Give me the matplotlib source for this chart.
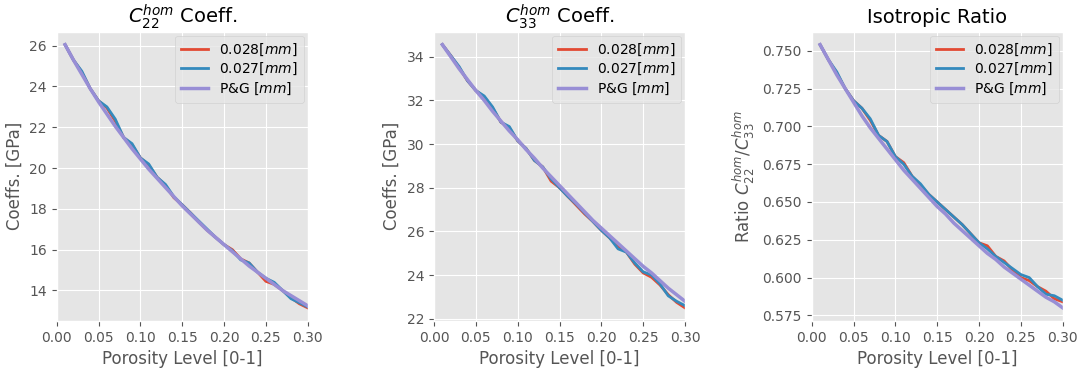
import matplotlib
matplotlib.use("Agg")
import matplotlib.pyplot as plt

plt.style.use("ggplot")

porosity = [0.01, 0.02, 0.03, 0.04, 0.05, 0.06, 0.07, 0.08, 0.09, 0.10,
            0.11, 0.12, 0.13, 0.14, 0.15, 0.16, 0.17, 0.18, 0.19, 0.20,
            0.21, 0.22, 0.23, 0.24, 0.25, 0.26, 0.27, 0.28, 0.29, 0.30]

# C22 coefficients [GPa]
c22_028 = [26.05, 25.3, 24.7, 23.9, 23.3, 22.95, 22.3, 21.5, 21.15, 20.5,
           20.15, 19.55, 19.15, 18.55, 18.2, 17.8, 17.35, 16.95, 16.6, 16.25,
           16.0, 15.55, 15.35, 14.9, 14.45, 14.3, 14.0, 13.65, 13.35, 13.15]
c22_027 = [26.05, 25.3, 24.75, 23.9, 23.3, 23.0, 22.4, 21.5, 21.2, 20.5,
           20.2, 19.55, 19.2, 18.6, 18.2, 17.8, 17.4, 17.0, 16.6, 16.25,
           15.95, 15.5, 15.35, 14.9, 14.6, 14.4, 14.0, 13.6, 13.4, 13.2]
c22_pg = [26.05, 25.3, 24.6, 23.9, 23.25, 22.65, 22.05, 21.5, 20.95, 20.45,
          19.95, 19.5, 19.05, 18.6, 18.15, 17.75, 17.35, 16.95, 16.6, 16.25,
          15.9, 15.55, 15.2, 14.9, 14.6, 14.3, 14.0, 13.75, 13.5, 13.25]

# C33 coefficients [GPa]
c33_028 = [34.55, 34.05, 33.5, 32.9, 32.45, 32.15, 31.65, 31.0, 30.75, 30.15,
           29.8, 29.25, 28.95, 28.3, 28.0, 27.6, 27.2, 26.8, 26.45, 26.05,
           25.7, 25.3, 25.05, 24.5, 24.1, 23.9, 23.55, 23.1, 22.75, 22.5]
c33_027 = [34.55, 34.05, 33.55, 32.9, 32.45, 32.2, 31.7, 31.0, 30.8, 30.15,
           29.8, 29.25, 28.95, 28.4, 28.0, 27.6, 27.25, 26.85, 26.45, 26.05,
           25.7, 25.2, 25.05, 24.55, 24.15, 24.0, 23.6, 23.05, 22.8, 22.6]
c33_pg = [34.55, 34.0, 33.45, 32.95, 32.45, 32.0, 31.5, 31.05, 30.6, 30.2,
          29.75, 29.35, 28.9, 28.5, 28.1, 27.7, 27.3, 26.9, 26.5, 26.15,
          25.8, 25.45, 25.1, 24.75, 24.4, 24.1, 23.75, 23.4, 23.1, 22.8]

# isotropic ratio C22/C33
ratio_028 = [0.754, 0.744, 0.735, 0.725, 0.717, 0.712, 0.704, 0.694, 0.690, 0.680,
             0.676, 0.667, 0.661, 0.655, 0.650, 0.645, 0.640, 0.635, 0.629, 0.623,
             0.621, 0.614, 0.611, 0.605, 0.600, 0.598, 0.594, 0.591, 0.586, 0.584]
ratio_027 = [0.754, 0.744, 0.736, 0.725, 0.717, 0.712, 0.705, 0.694, 0.690, 0.680,
             0.675, 0.667, 0.662, 0.655, 0.650, 0.645, 0.640, 0.635, 0.629, 0.623,
             0.619, 0.614, 0.610, 0.606, 0.602, 0.600, 0.594, 0.589, 0.588, 0.585]
ratio_pg = [0.754, 0.744, 0.734, 0.725, 0.716, 0.707, 0.699, 0.692, 0.685, 0.678,
            0.671, 0.665, 0.659, 0.653, 0.647, 0.642, 0.636, 0.631, 0.626, 0.621,
            0.616, 0.612, 0.607, 0.603, 0.599, 0.595, 0.591, 0.587, 0.584, 0.580]

labels = ["0.028$[mm]$", "0.027$[mm]$", "P&G $[mm]$"]
colors = ["#E24A33", "#348ABD", "#988ED5"]
xticks = [0.00, 0.05, 0.10, 0.15, 0.20, 0.25, 0.30]

panels = [
    (r"$C_{22}^{hom}$ Coeff.", "Coeffs. [GPa]", [c22_028, c22_027, c22_pg], [26, 24, 22, 20, 18, 16, 14], "%d"),
    (r"$C_{33}^{hom}$ Coeff.", "Coeffs. [GPa]", [c33_028, c33_027, c33_pg], [34, 32, 30, 28, 26, 24, 22], "%d"),
    ("Isotropic Ratio", r"Ratio $C_{22}^{hom}/C_{33}^{hom}$", [ratio_028, ratio_027, ratio_pg],
     [0.750, 0.725, 0.700, 0.675, 0.650, 0.625, 0.600, 0.575], "%.3f"),
]

fig = plt.figure(figsize=(10.81, 3.71), dpi=100)
lefts = [56.7, 434.0, 811.7]
W, H = 1081.0, 371.0

for (title, ylabel, series, yticks, fmt), left in zip(panels, lefts):
    ax = fig.add_axes([left / W, (H - 321) / H, 251 / W, (321 - 31.5) / H])
    for ys, lab, col in zip(series, labels, colors):
        lw = 2.5 if lab.startswith("P&G") else 2
        ax.plot(porosity, ys, label=lab, color=col, linewidth=lw)
    ax.set_xlim(0, 0.30)
    ax.set_xticks(xticks)
    ax.set_xticklabels(["%.2f" % v for v in xticks])
    ax.set_yticks(yticks)
    ax.set_yticklabels([fmt % v for v in yticks])
    ax.tick_params(labelsize=10)
    ax.set_title(title, fontsize=14, color="black")
    ax.set_xlabel("Porosity Level [0-1]", fontsize=12)
    ax.set_ylabel(ylabel, fontsize=12)
    ax.legend(loc="upper right", fontsize=10, labelspacing=0.25, borderaxespad=0.3)

fig.savefig("out.png", dpi=100)
